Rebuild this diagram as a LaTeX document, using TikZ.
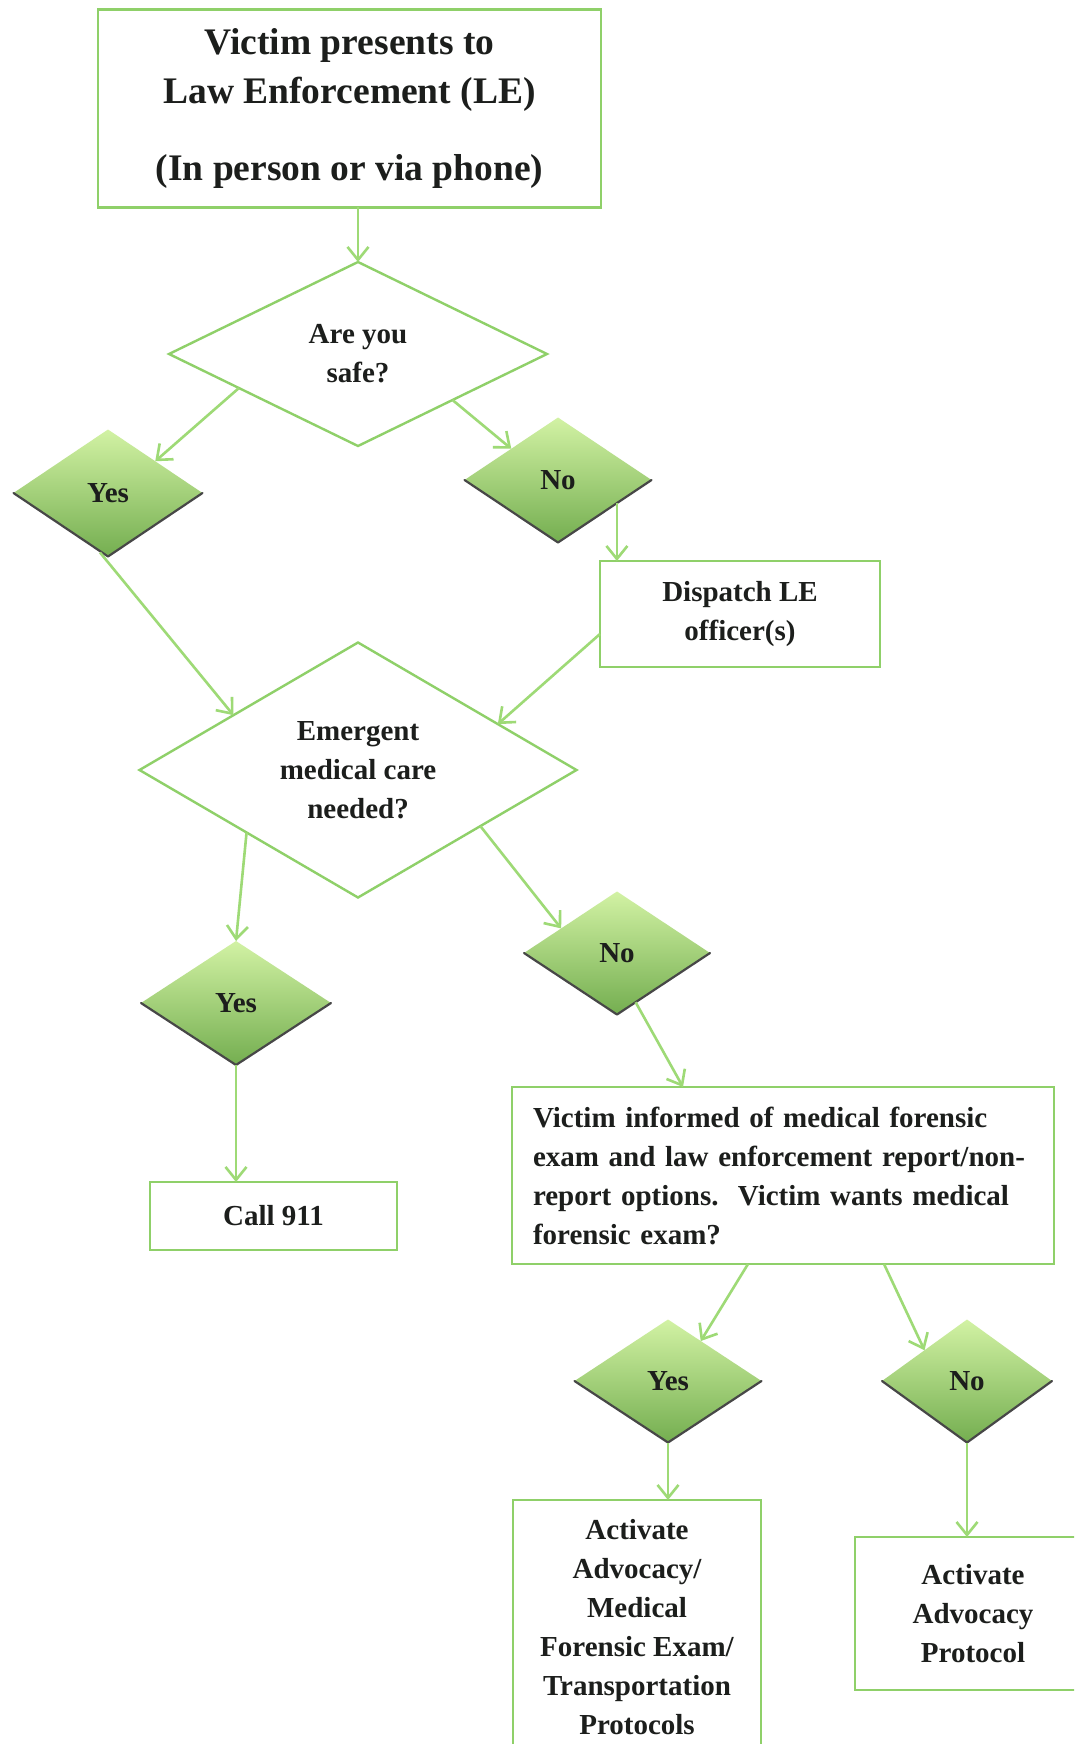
\documentclass[tikz,border=0pt]{standalone}
\usepackage{fontspec}
\setmainfont{Liberation Serif}
\usetikzlibrary{shapes.geometric,arrows.meta,calc}

\definecolor{edgegreen}{RGB}{143,208,105}
\definecolor{arrowgreen}{RGB}{158,218,118}
\definecolor{gemlight}{RGB}{210,242,164}
\definecolor{gemdark}{RGB}{116,174,80}
\definecolor{textdark}{RGB}{28,30,28}

\newcommand{\flowtitle}{\fontsize{37.5}{49}\selectfont\bfseries}
\newcommand{\flowbody}{\fontsize{29}{39}\selectfont\bfseries}

\begin{document}
\begin{tikzpicture}[x=1pt,y=-1pt,
  box/.style={rectangle, draw=edgegreen, line width=2.8pt, fill=white,
    inner sep=0pt, outer sep=0pt, align=center, text=textdark, font=\flowbody},
  question/.style={diamond, draw=edgegreen, line width=2.4pt, fill=white,
    inner sep=0pt, outer sep=0pt, align=center, text=textdark, font=\flowbody},
  gem/.style={diamond, top color=gemlight, bottom color=gemdark,
    inner sep=0pt, outer sep=0pt, text=textdark, font=\flowbody},
  gemedge/.style={draw=black!72, line width=2.2pt, line join=round, line cap=round},
  conn/.style={draw=arrowgreen, line width=2.6pt,
    -{Straight Barb[length=13pt,width=21pt]}}
]
\useasboundingbox (0,0) rectangle (1074,1744);
\clip (0,0) rectangle (1074,1744);
\fill[white] (0,0) rectangle (1074,1744);

% boxes and decisions
\node[box, font=\flowtitle, minimum width=503pt, minimum height=198pt] (start) at (349.5,108.5)
  {Victim presents to\\Law Enforcement (LE)\\[28pt](In person or via phone)};
\node[question, minimum width=378pt, minimum height=184pt] (safe) at (358,354) {Are you\\safe?};
\node[gem, minimum width=189pt, minimum height=127pt] (y1) at (108,493) {Yes};
\node[gem, minimum width=187pt, minimum height=125pt] (n1) at (558,480) {No};
\node[box, minimum width=280pt, minimum height=106pt] (disp) at (740,614) {Dispatch LE\\officer(s)};
\node[question, minimum width=437pt, minimum height=255pt] (emg) at (358,770)
  {Emergent\\medical care\\needed?};
\node[gem, minimum width=190pt, minimum height=124pt] (y2) at (236,1003) {Yes};
\node[gem, minimum width=186pt, minimum height=123pt] (n2) at (617,953) {No};
\node[box, minimum width=247pt, minimum height=68pt] (call) at (273.5,1216) {Call 911};
\node[box, minimum width=542pt, minimum height=177pt, text width=500pt, align=left] (inf) at (783,1175.5)
  {Victim informed of medical forensic\\exam and law enforcement report/non-\\report options.\ \ Victim wants medical\\forensic exam?};
\node[gem, minimum width=187pt, minimum height=123pt] (y3) at (668,1381) {Yes};
\node[gem, minimum width=170pt, minimum height=123pt] (n3) at (967,1381) {No};
\node[box, minimum width=248pt, minimum height=254pt] (act1) at (637,1627)
  {Activate\\Advocacy/\\Medical\\Forensic Exam/\\Transportation\\Protocols};
\node[box, minimum width=236pt, minimum height=153pt] (act2) at (973,1613.5)
  {Activate\\Advocacy\\Protocol};

% shaded lower rims of the answer diamonds
\foreach \g in {y1,n1,y2,n2,y3,n3}
  \draw[gemedge] (\g.west) -- (\g.south) -- (\g.east);

% connectors
\draw[conn] (start.south -| safe.north) -- (safe.north);
\draw[conn] ($(safe.west)!0.37!(safe.south)$) -- ($(y1.north)!0.5!(y1.east)$);
\draw[conn] ($(safe.south)!0.5!(safe.east)$) -- ($(n1.west)!0.5!(n1.north)$);
\coordinate (n1out) at ($(n1.south)!0.63!(n1.east)$);
\draw[conn] (n1out) -- (n1out |- disp.north);
\draw[conn] ($(y1.south)+(-8,-4)$) -- ($(emg.west)!0.43!(emg.north)$);
\draw[conn] ($(disp.west)+(0,20)$) -- ($(emg.north)!0.64!(emg.east)$);
\draw[conn] ($(emg.west)!0.49!(emg.south)$) -- (y2.north);
\draw[conn] ($(emg.south)!0.56!(emg.east)$) -- ($(n2.west)!0.4!(n2.north)$);
\draw[conn] (y2.south) -- (y2.south |- call.north);
\draw[conn] ($(n2.south)!0.2!(n2.east)$) -- ($(inf.north west)+(171,0)$);
\draw[conn] ($(inf.south west)+(236,0)$) -- ($(y3.north)!0.35!(y3.east)$);
\draw[conn] ($(inf.south west)+(372,0)$) -- ($(n3.west)!0.5!(n3.north)$);
\draw[conn] (y3.south) -- (y3.south |- act1.north);
\draw[conn] (n3.south) -- (n3.south |- act2.north);
\end{tikzpicture}
\end{document}
